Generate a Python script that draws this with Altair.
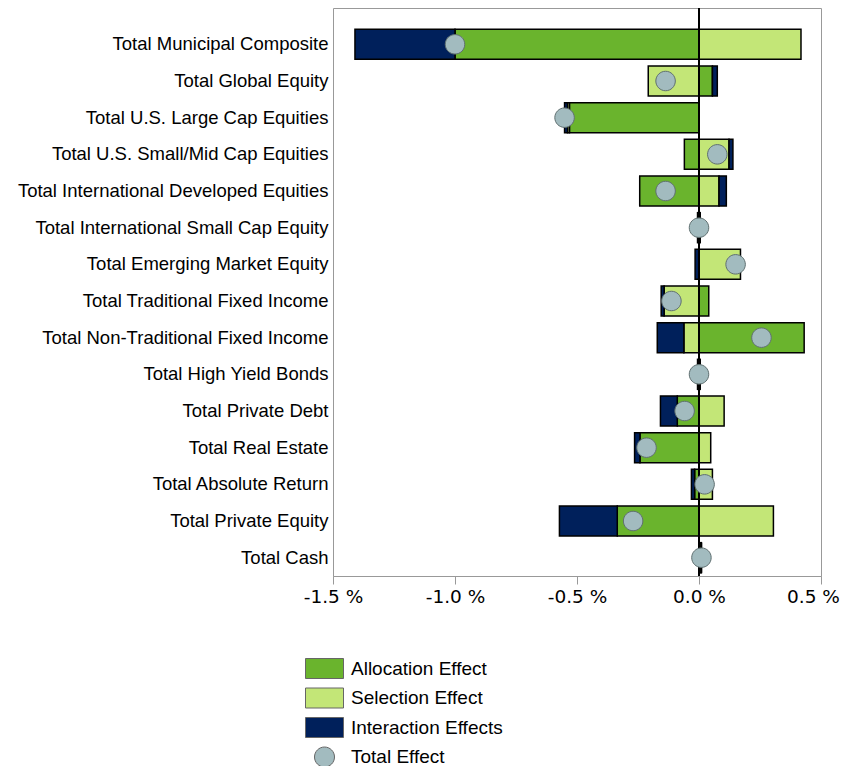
import altair as alt
import pandas as pd

categories = [
    "Total Municipal Composite",
    "Total Global Equity",
    "Total U.S. Large Cap Equities",
    "Total U.S. Small/Mid Cap Equities",
    "Total International Developed Equities",
    "Total International Small Cap Equity",
    "Total Emerging Market Equity",
    "Total Traditional Fixed Income",
    "Total Non-Traditional Fixed Income",
    "Total High Yield Bonds",
    "Total Private Debt",
    "Total Real Estate",
    "Total Absolute Return",
    "Total Private Equity",
    "Total Cash",
]

allocation = [-1.000, 0.055, -0.531, -0.060, -0.243, 0.005, 0.000, 0.040, 0.431, 0.005, -0.089, -0.242, -0.018, -0.335, 0.008]
selection = [0.418, -0.208, -0.008, 0.123, 0.082, -0.006, 0.170, -0.143, -0.062, -0.006, 0.103, 0.048, 0.055, 0.305, 0.002]
interaction = [-0.410, 0.020, -0.012, 0.016, 0.030, 0.000, -0.016, -0.012, -0.109, 0.000, -0.069, -0.022, -0.013, -0.237, 0.000]
total = [-1.000, -0.137, -0.551, 0.075, -0.137, 0.000, 0.150, -0.113, 0.256, 0.000, -0.059, -0.215, 0.023, -0.270, 0.010]

effects = ["Allocation Effect", "Selection Effect", "Interaction Effects", "Total Effect"]
colors = ["#6ab42d", "#c3e677", "#00205b", "#a2bbbf"]
x_ticks = [-1.5, -1.0, -0.5, 0.0, 0.5]

rows = []
for i, c in enumerate(categories):
    for k, (name, vals) in enumerate(zip(effects[:3], [allocation, selection, interaction])):
        rows.append({"cat": c, "effect": name, "value": vals[i], "ord": k})
bars_df = pd.DataFrame(rows)
tot_df = pd.DataFrame({"cat": categories, "value": total, "effect": ["Total Effect"] * len(categories)})

rect_path = "M-1.9,-1L1.9,-1L1.9,1L-1.9,1Z"
circ_path = "M1,0A1,1,0,1,1,-1,0A1,1,0,1,1,1,0Z"

legend = alt.Legend(
    title=None, orient="none", legendX=-19, legendY=650,
    labelFontSize=19, labelColor="#000", labelFont="Liberation Sans",
    symbolSize=400, symbolStrokeColor="#666", symbolStrokeWidth=1,
    labelOffset=16, rowPadding=4.5, padding=0,
)

color_scale = alt.Scale(domain=effects, range=colors)
shape_scale = alt.Scale(domain=effects, range=[rect_path, rect_path, rect_path, circ_path])

x_enc = alt.X(
    "value:Q", stack="zero",
    scale=alt.Scale(domain=[-1.5, 0.5], nice=False, zero=False),
    axis=alt.Axis(
        title=None, values=x_ticks, grid=False, labelFlush=False,
        labelExpr="(datum.value < 0 ? '-' : '') + format(abs(datum.value), '.1f') + ' %'",
        labelOffset={"condition": {"test": "datum.value > 0.4", "value": -8}, "value": 0},
        labelFontSize=18.5, labelFont="DejaVu Sans", labelColor="#000", labelPadding=3,
        domainColor="#999", tickColor="#999", tickSize=8,
    ),
)
y_enc = alt.Y(
    "cat:N", sort=categories,
    scale=alt.Scale(range=[18, 568], paddingInner=0.18, paddingOuter=0.09),
    axis=alt.Axis(title=None, ticks=False, domain=False, labelFontSize=18.5,
                  labelColor="#000", labelPadding=5, labelLimit=400),
)

bars = alt.Chart(bars_df).mark_bar(stroke="#000", strokeWidth=1.5).encode(
    x=x_enc,
    y=y_enc,
    color=alt.Color("effect:N", scale=color_scale, legend=legend),
    order=alt.Order("ord:Q"),
)

rule = alt.Chart(bars_df).mark_rule(color="#000", strokeWidth=1).encode(x=alt.datum(0))

points = alt.Chart(tot_df).mark_point(filled=True, size=380, stroke="#5f6f70", strokeWidth=1, opacity=1).encode(
    x=alt.X("value:Q"),
    y=alt.Y("cat:N", sort=categories),
    color=alt.Color("effect:N", scale=color_scale, legend=legend),
    shape=alt.Shape("effect:N", scale=shape_scale, legend=legend),
)

chart = alt.layer(bars, rule, points).properties(
    width=488, height=568,
    autosize=alt.AutoSizeParams(type="none"),
    padding={"left": 325, "top": 0, "right": 19, "bottom": 190},
).configure(font="Liberation Sans").configure_view(stroke="#999", strokeWidth=1)

chart.save("out.html", embed_options={"renderer": "svg", "actions": False})
